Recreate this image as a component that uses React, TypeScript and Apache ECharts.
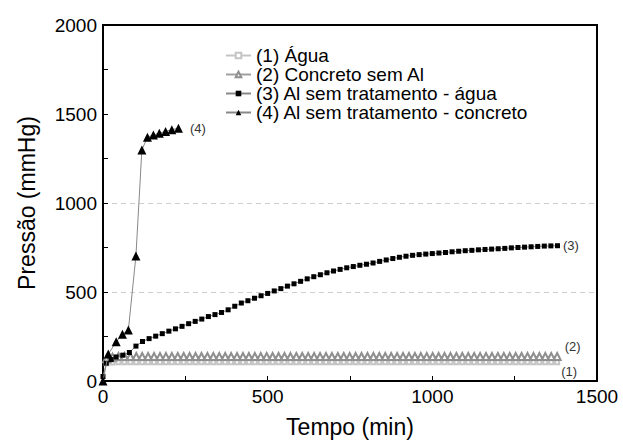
import { useEffect, useRef } from "react";
import * as echarts from "echarts";

const nomes = [
  "(1) Água",
  "(2) Concreto sem Al",
  "(3) Al sem tratamento - água",
  "(4) Al sem tratamento - concreto",
];
const rotulos = ["(1)", "(2)", "(3)", "(4)"];

const tempo12 = [
  11, 29, 47, 65, 83, 101, 119, 137, 155, 173, 191,
  209, 227, 245, 263, 281, 299, 317, 335, 353, 371, 389,
  407, 425, 443, 461, 479, 497, 515, 533, 551, 569, 587,
  605, 623, 641, 659, 677, 695, 713, 731, 749, 767, 785,
  803, 821, 839, 857, 875, 893, 911, 929, 947, 965, 983,
  1001, 1019, 1037, 1055, 1073, 1091, 1109, 1127, 1145, 1163, 1181,
  1199, 1217, 1235, 1253, 1271, 1289, 1307, 1325, 1343, 1361, 1379,
];
const agua = [
  100, 104, 105, 105, 105, 105, 105, 105, 105, 105, 105,
  105, 105, 105, 105, 105, 105, 105, 105, 105, 105, 105,
  105, 105, 105, 105, 105, 105, 105, 105, 105, 105, 105,
  105, 105, 105, 105, 105, 105, 105, 105, 105, 105, 105,
  105, 105, 105, 105, 105, 105, 105, 105, 105, 105, 105,
  105, 105, 105, 105, 105, 105, 105, 105, 105, 105, 105,
  105, 105, 105, 105, 105, 105, 105, 105, 105, 105, 105,
];
const concreto = [
  125, 134, 138, 138, 138, 138, 138, 138, 138, 138, 138,
  138, 138, 138, 138, 138, 138, 138, 138, 138, 138, 138,
  138, 138, 138, 138, 138, 138, 138, 138, 138, 138, 138,
  138, 138, 138, 138, 138, 138, 138, 138, 138, 138, 138,
  138, 138, 138, 138, 138, 138, 138, 138, 138, 138, 138,
  138, 138, 138, 138, 138, 138, 138, 138, 138, 138, 138,
  138, 138, 138, 138, 138, 138, 138, 138, 138, 138, 138,
];

const tempo3 = [
  0, 10, 25, 40, 60, 80,
  100, 120, 140, 160, 180, 200, 220, 240, 260, 280,
  300, 320, 340, 360, 380, 400, 420, 440, 460, 480,
  500, 520, 540, 560, 580, 600, 620, 640, 660, 680,
  700, 720, 740, 760, 780, 800, 820, 840, 860, 880,
  900, 920, 940, 960, 980, 1000, 1020, 1040, 1060, 1080,
  1100, 1120, 1140, 1160, 1180, 1200, 1220, 1240, 1260, 1280,
  1300, 1320, 1340, 1360, 1380,
];
const alAgua = [
  25, 100, 120, 135, 145, 160,
  196, 222, 238, 252, 266, 280, 293, 307, 322, 335,
  348, 362, 373, 385, 400, 420, 438, 451, 465, 479,
  492, 506, 519, 533, 546, 560, 574, 586, 597, 608,
  618, 627, 636, 643, 650, 656, 663, 672, 680, 688,
  695, 701, 706, 710, 713, 716, 719, 722, 726, 729,
  732, 734, 737, 739, 741, 743, 745, 748, 750, 752,
  754, 756, 758, 759, 760,
];

const tempo4 = [0, 16, 40, 59, 77, 100, 118, 135, 153, 171, 190, 209, 229];
const alConcreto = [0, 151, 220, 263, 286, 702, 1298, 1370, 1382, 1392, 1402, 1412, 1420];

const FONT = "'Liberation Sans', Arial, Helvetica, sans-serif";

function pontos(ts: number[], vs: number[], rotulo: string, offset: number[]) {
  return ts.map((t, i) =>
    i === ts.length - 1
      ? {
          value: [t, vs[i]],
          label: {
            show: true,
            position: "right",
            formatter: rotulo,
            offset,
            color: "#333",
            fontSize: 13,
            fontFamily: FONT,
          },
        }
      : [t, vs[i]]
  );
}

export default function App() {
  const ref = useRef<HTMLDivElement>(null);
  useEffect(() => {
    if (!ref.current) return;
    const chart = echarts.init(ref.current, null, { renderer: "svg" });
    const option: any = {
      animation: false,
      backgroundColor: "#fff",
      textStyle: { fontFamily: FONT },
      grid: {
        left: 103,
        top: 25,
        right: 26,
        bottom: 61,
        show: true,
        borderColor: "#000",
        borderWidth: 2,
        backgroundColor: "transparent",
      },
      legend: {
        orient: "vertical",
        left: 225,
        top: 46,
        padding: 0,
        itemGap: 0,
        itemWidth: 25,
        itemHeight: 7,
        data: nomes,
        textStyle: {
          fontSize: 19,
          lineHeight: 19,
          color: "#000",
          fontFamily: FONT,
        },
      },
      xAxis: {
        type: "value",
        min: 0,
        max: 1500,
        interval: 500,
        name: "Tempo (min)",
        nameLocation: "middle",
        nameGap: 34,
        nameTextStyle: { fontSize: 23, color: "#000", fontFamily: FONT },
        axisLine: { show: true, lineStyle: { color: "#000", width: 2 } },
        axisTick: { show: true, inside: true, length: 5, lineStyle: { color: "#000" } },
        minorTick: { show: true, splitNumber: 2, length: 5, lineStyle: { color: "#000" } },
        axisLabel: {
          fontSize: 19,
          color: "#000",
          margin: 6,
          fontFamily: FONT,
          formatter: (v: number) => String(v),
        },
        splitLine: { show: false },
      },
      yAxis: {
        type: "value",
        min: 0,
        max: 2000,
        interval: 500,
        name: "Pressão (mmHg)",
        nameLocation: "middle",
        nameGap: 65,
        nameTextStyle: { fontSize: 23, color: "#000", fontFamily: FONT },
        axisLine: { show: true, lineStyle: { color: "#000", width: 2 } },
        axisTick: { show: true, inside: true, length: 5, lineStyle: { color: "#000" } },
        minorTick: { show: true, splitNumber: 2, length: 5, lineStyle: { color: "#000" } },
        axisLabel: {
          fontSize: 19,
          color: "#000",
          margin: 6,
          fontFamily: FONT,
          formatter: (v: number) => String(v),
        },
        splitLine: {
          show: true,
          lineStyle: {
            type: [5, 4],
            width: 1,
            color: ["transparent", "#cfcfcf", "#cfcfcf", "transparent", "transparent"],
          },
        },
      },
      series: [
        {
          name: nomes[0],
          type: "line",
          data: pontos(tempo12, agua, rotulos[0], [-4, 9]),
          symbol: "emptyRect",
          symbolSize: 4,
          showAllSymbol: true,
          itemStyle: { color: "#c4c4c4", borderWidth: 1 },
          lineStyle: { color: "#c4c4c4", width: 1 },
          z: 2,
        },
        {
          name: nomes[1],
          type: "line",
          data: pontos(tempo12, concreto, rotulos[1], [-2, -10]),
          symbol: "emptyTriangle",
          symbolSize: 7,
          showAllSymbol: true,
          itemStyle: { color: "#8f8f8f", borderWidth: 1 },
          lineStyle: { color: "#a0a0a0", width: 1 },
          z: 3,
        },
        {
          name: nomes[2],
          type: "line",
          data: pontos(tempo3, alAgua, rotulos[2], [-2, 0]),
          symbol: "rect",
          symbolSize: 5,
          showAllSymbol: true,
          itemStyle: { color: "#000" },
          lineStyle: { color: "#888", width: 1 },
          z: 4,
        },
        {
          name: nomes[3],
          type: "line",
          data: pontos(tempo4, alConcreto, rotulos[3], [2, 0]),
          symbol: "triangle",
          symbolSize: 9,
          showAllSymbol: true,
          itemStyle: { color: "#000" },
          lineStyle: { color: "#888", width: 1 },
          z: 5,
        },
      ],
    };
    chart.setOption(option);
    return () => chart.dispose();
  }, []);
  return (
    <div
      ref={ref}
      style={{ position: "fixed", left: 0, top: 0, width: 623, height: 443, background: "#fff" }}
    />
  );
}
